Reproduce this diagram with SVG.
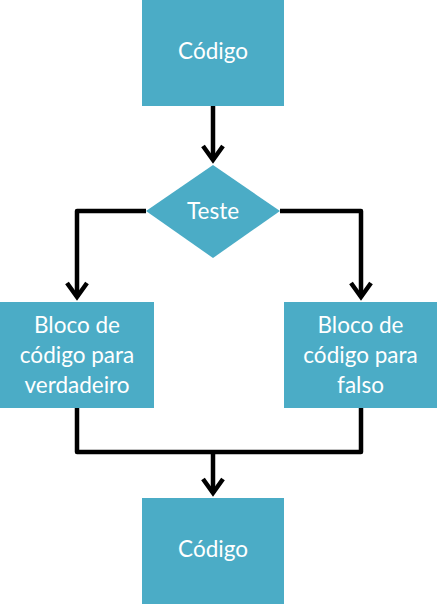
<svg xmlns="http://www.w3.org/2000/svg" width="441" height="604" viewBox="0 0 441 604">
<defs>
<style>
.box{fill:#4BACC6;}
.lbl{font-family:Lato,"Open Sans","Liberation Sans",sans-serif;font-size:22.5px;fill:#ffffff;text-anchor:middle;}
.con{fill:none;stroke:#000000;stroke-width:4.5;stroke-linejoin:round;}
.head{fill:none;stroke:#000000;stroke-width:4.5;stroke-linejoin:miter;}
</style>
</defs>
<rect width="441" height="604" fill="#ffffff"/>
<g id="connectors">
<path class="con" d="M213,106 V160"/>
<path class="head" d="M203,146 L213,160 L223,146"/>
<path class="con" d="M146,211 H77 V297"/>
<path class="head" d="M67,283 L77,297 L87,283"/>
<path class="con" d="M280,211 H361 V297"/>
<path class="head" d="M351,283 L361,297 L371,283"/>
<path class="con" d="M77,408 V452 H361 V408"/>
<path class="con" d="M213,452 V493"/>
<path class="head" d="M203,479 L213,493 L223,479"/>
</g>
<g id="n1">
<rect class="box" x="142" y="0" width="142" height="106"/>
<text class="lbl" x="213" y="59">Código</text>
</g>
<g id="n2">
<polygon class="box" points="213,165 280,211 213,258 146,211"/>
<text class="lbl" x="213" y="219">Teste</text>
</g>
<g id="n3">
<rect class="box" x="0" y="302" width="154" height="106"/>
<text class="lbl" x="77" y="333">Bloco de</text>
<text class="lbl" x="77" y="363">código para</text>
<text class="lbl" x="77" y="393">verdadeiro</text>
</g>
<g id="n4">
<rect class="box" x="284" y="302" width="153" height="106"/>
<text class="lbl" x="360.5" y="333">Bloco de</text>
<text class="lbl" x="360.5" y="363">código para</text>
<text class="lbl" x="360.5" y="393">falso</text>
</g>
<g id="n5">
<rect class="box" x="142" y="498" width="142" height="106"/>
<text class="lbl" x="213" y="557">Código</text>
</g>
</svg>
